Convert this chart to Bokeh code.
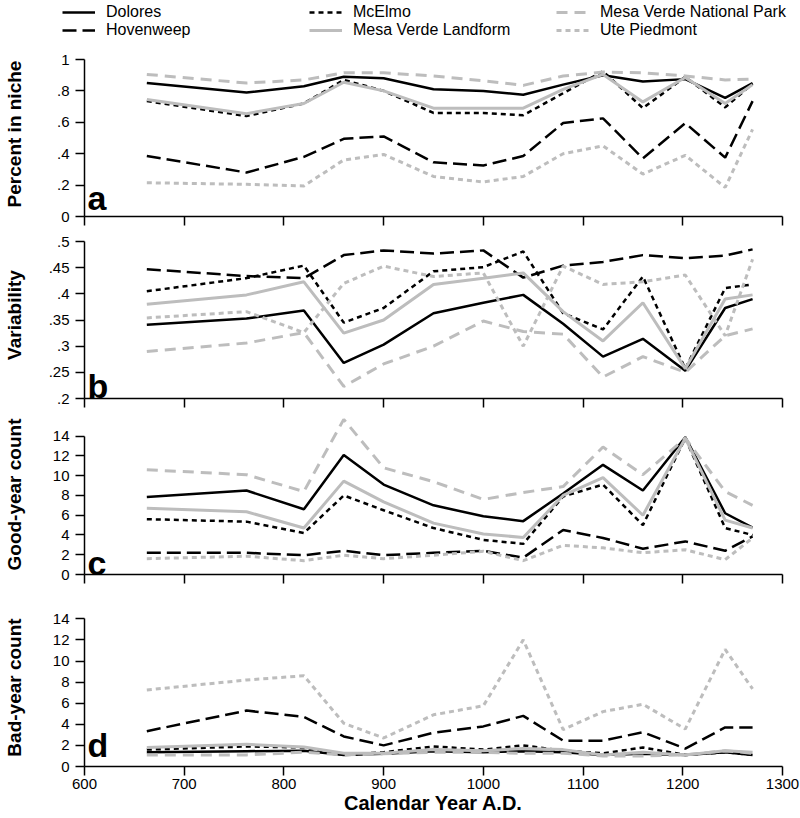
from bokeh.plotting import figure
from bokeh.layouts import column
from bokeh.models import (Range1d, FixedTicker, Label, Legend, LegendItem, ColumnDataSource,
                          CustomLabelingPolicy)
from bokeh.embed import file_html
from bokeh.resources import INLINE

# ---------------- data ----------------
years = [662.5, 762.5, 820, 860, 900, 950, 1000, 1040, 1080, 1120, 1160, 1202.5, 1242.5, 1270]
names = ["Dolores", "Hovenweep", "McElmo", "Mesa Verde Landform",
         "Mesa Verde National Park", "Ute Piedmont"]

# a: Percent in niche
niche_dolores = [.85, .79, .83, .89, .88, .81, .80, .775, .84, .90, .86, .875, .755, .85]
niche_hovenweep = [.385, .28, .38, .495, .51, .345, .325, .385, .595, .625, .37, .595, .375, .735]
niche_mcelmo = [.735, .64, .72, .87, .80, .66, .66, .645, .785, .925, .69, .89, .695, .845]
niche_mvl = [.745, .655, .72, .855, .80, .69, .69, .69, .81, .905, .73, .885, .72, .84]
niche_mvnp = [.905, .85, .87, .915, .915, .895, .865, .835, .895, .92, .915, .895, .87, .875]
niche_ute = [.215, .205, .195, .36, .395, .255, .22, .255, .40, .45, .27, .39, .185, .555]

# b: Variability
var_dolores = [.341, .353, .368, .268, .303, .363, .383, .398, .343, .28, .314, .253, .373, .39]
var_hovenweep = [.447, .434, .43, .474, .483, .477, .483, .431, .454, .461, .474, .468, .473, .485]
var_mcelmo = [.405, .43, .454, .345, .373, .443, .451, .481, .363, .332, .433, .257, .411, .418]
var_mvl = [.38, .398, .423, .325, .35, .418, .43, .44, .366, .31, .383, .257, .39, .398]
var_mvnp = [.29, .306, .326, .223, .266, .30, .348, .328, .323, .241, .28, .25, .32, .333]
var_ute = [.354, .366, .326, .42, .453, .433, .44, .30, .453, .418, .423, .436, .32, .466]

# c: Good-year count
good_dolores = [7.85, 8.5, 6.6, 12.1, 9.1, 7.0, 5.9, 5.4, 8.2, 11.1, 8.5, 13.9, 6.2, 4.75]
good_hovenweep = [2.2, 2.2, 1.95, 2.4, 1.95, 2.2, 2.4, 1.7, 4.5, 3.7, 2.6, 3.35, 2.4, 3.85]
good_mcelmo = [5.6, 5.35, 4.2, 8.0, 6.5, 4.7, 3.5, 3.1, 7.9, 9.1, 5.0, 13.8, 4.7, 4.0]
good_mvl = [6.7, 6.35, 4.7, 9.45, 7.35, 5.2, 4.1, 3.75, 8.0, 9.8, 6.0, 13.8, 5.5, 4.7]
good_mvnp = [10.6, 10.1, 8.4, 15.7, 10.8, 9.4, 7.6, 8.3, 8.9, 12.9, 10.1, 13.8, 8.4, 7.0]
good_ute = [1.6, 1.85, 1.4, 1.95, 1.6, 1.95, 2.35, 1.4, 2.95, 2.7, 2.2, 2.5, 1.5, 3.7]

# d: Bad-year count
bad_dolores = [1.35, 1.45, 1.5, 1.1, 1.2, 1.45, 1.35, 1.45, 1.35, 1.1, 1.2, 1.1, 1.35, 1.1]
bad_hovenweep = [3.35, 5.3, 4.7, 2.85, 2.0, 3.2, 3.8, 4.8, 2.45, 2.45, 3.25, 1.7, 3.7, 3.7]
bad_mcelmo = [1.6, 1.9, 1.8, 1.1, 1.35, 1.9, 1.6, 2.0, 1.5, 1.25, 1.8, 1.1, 1.35, 1.1]
bad_mvl = [1.8, 2.1, 1.85, 1.25, 1.25, 1.6, 1.5, 1.7, 1.6, 1.1, 1.35, 1.1, 1.5, 1.35]
bad_mvnp = [1.1, 1.1, 1.35, 1.1, 1.2, 1.35, 1.35, 1.25, 1.25, 1.0, 1.0, 1.1, 1.5, 1.25]
bad_ute = [7.25, 8.2, 8.6, 4.1, 2.7, 4.9, 5.75, 12.0, 3.5, 5.2, 5.9, 3.55, 11.1, 7.35]

x_ticks = [600, 700, 800, 900, 1000, 1100, 1200, 1300]
count_ticks = [0, 2, 4, 6, 8, 10, 12, 14]
niche_ticks = [0, 0.2, 0.4, 0.6, 0.8, 1]
niche_labels = ["0", ".2", ".4", ".6", ".8", "1"]
var_ticks = [0.2, 0.25, 0.3, 0.35, 0.4, 0.45, 0.5]
var_labels = [".2", ".25", ".3", ".35", ".4", ".45", ".5"]

# ---------------- styles ----------------
GRAY = "#bdbdbd"
styles = {
    "Dolores": dict(color="black", dash="solid", width=2.5),
    "Hovenweep": dict(color="black", dash="14 6", width=2.5),
    "McElmo": dict(color="black", dash="5 4", width=2.5),
    "Mesa Verde Landform": dict(color=GRAY, dash="solid", width=3),
    "Mesa Verde National Park": dict(color=GRAY, dash="11 7", width=3),
    "Ute Piedmont": dict(color=GRAY, dash="5 4", width=3),
}

FONT = "Liberation Sans"
LEFT = 84
FW = 698
RIGHT = 800 - LEFT - FW


def make_fig(y0, y1, fh, top, bottom, yticks, ylabels, ytitle, title_standoff, show_x_labels):
    p = figure(frame_width=FW, frame_height=fh,
               x_range=Range1d(600, 1300), y_range=Range1d(y0, y1),
               output_backend="svg", toolbar_location=None,
               min_border_left=LEFT, min_border_right=RIGHT,
               min_border_top=top, min_border_bottom=bottom)
    p.outline_line_color = None
    p.xgrid.visible = False
    p.ygrid.visible = False
    p.background_fill_color = "white"
    for ax in (p.xaxis[0], p.yaxis[0]):
        ax.axis_line_width = 1.5
        ax.major_tick_line_width = 1.5
        ax.major_tick_out = 9
        ax.major_tick_in = 0
        ax.minor_tick_out = 0
        ax.minor_tick_in = 0
        ax.major_label_text_font = FONT
        ax.major_label_text_font_size = "15px"
        ax.major_label_text_color = "black"
        ax.axis_label_text_font = FONT
        ax.axis_label_text_font_style = "bold"
        ax.axis_label_text_color = "black"
    xa = p.xaxis[0]
    xa.ticker = FixedTicker(ticks=x_ticks)
    xa.bounds = (600, 1300)
    if show_x_labels:
        xa.major_label_standoff = 3
        xa.axis_label = "Calendar Year A.D."
        xa.axis_label_text_font_size = "20px"
        xa.axis_label_standoff = 0
    else:
        # ticks only, no tick labels on the upper panels
        xa.major_label_text_font_size = "0px"
        xa.major_label_standoff = 0
        xa.major_label_policy = CustomLabelingPolicy(code="return new Set()")
    ya = p.yaxis[0]
    ya.ticker = FixedTicker(ticks=yticks)
    ya.bounds = (yticks[0], yticks[-1])
    ya.major_label_standoff = 6
    ya.axis_label = ytitle
    ya.axis_label_text_font_size = "19px"
    ya.axis_label_standoff = title_standoff
    if ylabels is not None:
        ya.major_label_overrides = {t: l for t, l in zip(yticks, ylabels)}
    return p


def add_lines(p, data):
    rs = []
    for name, ys in zip(names, data):
        st = styles[name]
        src = ColumnDataSource(dict(x=years, y=ys))
        r = p.line("x", "y", source=src, line_color=st["color"], line_width=st["width"],
                   line_dash=st["dash"])
        rs.append(r)
    return rs


def add_letter(p, letter, ylet):
    p.add_layout(Label(x=603, y=ylet, text=letter, text_font=FONT,
                       text_font_size="34px", text_font_style="bold",
                       text_baseline="alphabetic", text_color="black"))


# legend strip (own figure, legend drawn inside its frame)
LEG_H = 51
pl = figure(frame_width=800, frame_height=LEG_H, x_range=Range1d(0, 1), y_range=Range1d(0, 1),
            output_backend="svg", toolbar_location=None, x_axis_type=None, y_axis_type=None,
            min_border_left=0, min_border_right=0, min_border_top=0, min_border_bottom=0)
pl.outline_line_color = None
pl.xgrid.visible = False
pl.ygrid.visible = False
nan = float("nan")
leg_rs = []
for n in names:
    st = styles[n]
    src = ColumnDataSource(dict(x=[nan, nan], y=[nan, nan]))
    leg_rs.append(pl.line("x", "y", source=src, line_color=st["color"], line_width=st["width"],
                          line_dash=st["dash"]))
legend = Legend(items=[LegendItem(label=n, renderers=[r]) for n, r in zip(names, leg_rs)],
                location=(62, 12), orientation="vertical", nrows=2,
                glyph_width=33, glyph_height=16, label_standoff=11,
                label_width=203, label_height=16, spacing=0, padding=0, margin=0,
                label_text_font=FONT, label_text_font_size="16px", label_text_color="black",
                background_fill_alpha=0, border_line_alpha=0)
pl.add_layout(legend, "center")

# panel a
pa = make_fig(0, 165 / 157, 165, 0, 10, niche_ticks, niche_labels,
              "Percent in niche", 29, False)
add_lines(pa, [niche_dolores, niche_hovenweep, niche_mcelmo, niche_mvl, niche_mvnp, niche_ute])
add_letter(pa, "a", 0.12)

# panel b
pb = make_fig(0.2, 0.2 + 167 / 523.3, 167, 5, 10, var_ticks, var_labels,
              "Variability", 21, False)
add_lines(pb, [var_dolores, var_hovenweep, var_mcelmo, var_mvl, var_mvnp, var_ute])
add_letter(pb, "b", 0.224)

# panel c
pc = make_fig(0, 160 / 9.88, 160, 6, 10, count_ticks, None,
              "Good-year count", 25, False)
add_lines(pc, [good_dolores, good_hovenweep, good_mcelmo, good_mvl, good_mvnp, good_ute])
add_letter(pc, "c", 1.2)

# panel d
pd_ = make_fig(0, 158 / 10.55, 158, 24, 52, count_ticks, None,
               "Bad-year count", 25, True)
add_lines(pd_, [bad_dolores, bad_hovenweep, bad_mcelmo, bad_mvl, bad_mvnp, bad_ute])
add_letter(pd_, "d", 2.0)

layout = column(pl, pa, pb, pc, pd_, spacing=0)
open("out.html", "w").write(file_html(layout, INLINE))
